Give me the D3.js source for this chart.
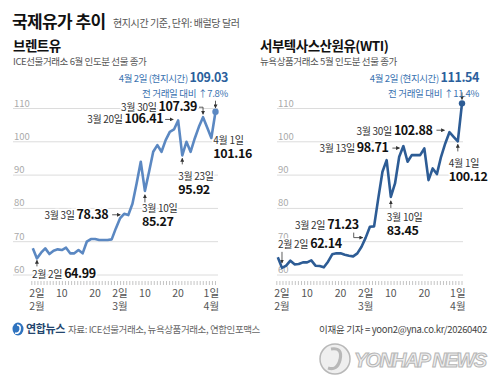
<!DOCTYPE html>
<html>
<head>
<meta charset="utf-8">
<script src="https://cdn.jsdelivr.net/npm/d3@7"></script>
<style>
  body { margin: 0; background: #fff; }
  svg { display: block; font-family: "Noto Sans CJK KR", "Noto Sans", sans-serif; }
</style>
</head>
<body>
<div id="chart"></div>
<script>
// trading days, 2026-01-30 .. 2026-04-02
var dates = ["1/30",
  "2/2","2/3","2/4","2/5","2/6","2/9","2/10","2/11","2/12","2/13",
  "2/16","2/17","2/18","2/19","2/20","2/23","2/24","2/25","2/26","2/27",
  "3/2","3/3","3/4","3/5","3/6","3/9","3/10","3/11","3/12","3/13",
  "3/16","3/17","3/18","3/19","3/20","3/23","3/24","3/25","3/26","3/27",
  "3/30","3/31","4/1","4/2"];

var brent = [68.0,
  64.99,66.7,68.0,66.3,67.3,67.7,67.5,68.2,66.5,66.5,
  67.5,66.5,70.0,70.8,70.8,70.5,70.5,70.5,70.7,74.0,
  77.0,78.38,78.0,81.4,87.5,94.0,85.27,91.0,97.0,99.0,
  97.0,100.5,103.0,103.7,106.41,95.92,100.0,97.0,101.0,104.5,
  107.39,104.3,101.16,109.03];

var wti = [65.3,
  62.14,62.8,64.3,63.2,63.3,63.8,63.8,64.4,62.8,62.7,
  62.3,64.0,66.2,66.5,66.5,66.1,65.8,65.6,66.5,68.5,
  71.23,74.5,74.6,83.0,91.0,94.5,83.45,87.5,95.5,98.71,
  94.0,96.0,96.0,96.0,98.0,88.5,92.0,90.3,95.5,99.5,
  102.88,101.5,100.12,111.54];

var yTicks = [60, 70, 80, 90, 100, 110];
var xTickLabels = [
  {date: "2/2", top: "2일", bottom: "2월"},
  {date: "2/10", top: "10"},
  {date: "2/20", top: "20"},
  {date: "3/2", top: "2일", bottom: "3월"},
  {date: "3/10", top: "10"},
  {date: "3/20", top: "20"},
  {date: "4/1", top: "1일", bottom: "4월"}
];

var brentNotes = [
  {date: "2/2", label: "2월 2일", value: "64.99"},
  {date: "3/3", label: "3월 3일", value: "78.38"},
  {date: "3/10", label: "3월 10일", value: "85.27"},
  {date: "3/20", label: "3월 20일", value: "106.41"},
  {date: "3/23", label: "3월 23일", value: "95.92"},
  {date: "3/30", label: "3월 30일", value: "107.39"},
  {date: "4/1", label: "4월 1일", value: "101.16"}
];
var wtiNotes = [
  {date: "2/2", label: "2월 2일", value: "62.14"},
  {date: "3/2", label: "3월 2일", value: "71.23"},
  {date: "3/10", label: "3월 10일", value: "83.45"},
  {date: "3/13", label: "3월 13일", value: "98.71"},
  {date: "3/30", label: "3월 30일", value: "102.88"},
  {date: "4/1", label: "4월 1일", value: "100.12"}
];

var width = 500, height = 390;

var svg = d3.select('#chart').append('svg')
  .attr('width', width)
  .attr('height', height);

svg.append('rect').attr('width', width).attr('height', height).attr('fill', '#fff');

var defs = svg.append('defs');
defs.append('marker')
  .attr('id', 'head')
  .attr('viewBox', '0 0 6 6')
  .attr('refX', 5).attr('refY', 3)
  .attr('markerWidth', 4).attr('markerHeight', 4)
  .attr('markerUnits', 'userSpaceOnUse')
  .attr('orient', 'auto')
  .append('path').attr('d', 'M0,0L6,3L0,6Z').attr('fill', '#333');

// header
svg.append('text').attr('x', 12).attr('y', 28)
  .attr('font-size', 17).attr('font-weight', 700).attr('fill', '#111')
  .attr('letter-spacing', -0.6)
  .text('국제유가 추이');
svg.append('text').attr('x', 113).attr('y', 27)
  .attr('font-size', 10).attr('fill', '#555')
  .attr('letter-spacing', -0.4)
  .text('현지시간 기준, 단위: 배럴당 달러');

var y = d3.scaleLinear().domain([60, 110]).range([275, 108.5]);

function drawPanel(o) {
  var g = svg.append('g');
  var x = d3.scalePoint().domain(dates).range(o.range);

  g.append('text').attr('x', o.titleX).attr('y', 51)
    .attr('font-size', 13.5).attr('font-weight', 700).attr('fill', '#111')
    .attr('letter-spacing', -0.5)
    .text(o.title);
  g.append('text').attr('x', o.titleX).attr('y', 65)
    .attr('font-size', 9.5).attr('fill', '#555')
    .attr('letter-spacing', -0.4)
    .text(o.sub);

  // grid
  g.selectAll('.grid').data(yTicks).enter().append('line')
    .attr('x1', o.gridX[0]).attr('x2', o.gridX[1])
    .attr('y1', function(d) { return y(d); })
    .attr('y2', function(d) { return y(d); })
    .attr('stroke', '#dcdcdc').attr('stroke-width', 1);
  g.selectAll('.ylab').data(yTicks).enter().append('text')
    .attr('x', o.gridX[0] + 1)
    .attr('y', function(d) { return y(d) - 2; })
    .attr('font-size', 9.5).attr('fill', '#aaa')
    .text(function(d) { return d; });

  // day ticks (calendar days Feb 1 .. Apr 2)
  var dayX = d3.scaleLinear().domain([0, 60]).range([x('1/30') - 1, x('4/2')]);
  g.selectAll('.tick').data(d3.range(0, 61)).enter().append('line')
    .attr('x1', function(d) { return dayX(d); })
    .attr('x2', function(d) { return dayX(d); })
    .attr('y1', 281).attr('y2', 285)
    .attr('stroke', '#b5b5b5').attr('stroke-width', 0.8);

  g.selectAll('.xlab').data(xTickLabels).enter().append('text')
    .attr('x', function(d) { return x(d.date); })
    .attr('y', 297).attr('text-anchor', 'middle')
    .attr('font-size', 10.5).attr('fill', '#555')
    .text(function(d) { return d.top; });
  g.selectAll('.mlab').data(xTickLabels.filter(function(d) { return d.bottom; })).enter().append('text')
    .attr('x', function(d) { return x(d.date); })
    .attr('y', 310).attr('text-anchor', 'middle')
    .attr('font-size', 10.5).attr('fill', '#555')
    .text(function(d) { return d.bottom; });

  // line
  var line = d3.line()
    .x(function(d, i) { return x(dates[i]); })
    .y(function(d) { return y(d); });
  g.append('path').datum(o.values)
    .attr('d', line)
    .attr('fill', 'none')
    .attr('stroke', o.color)
    .attr('stroke-width', 2.6)
    .attr('stroke-linejoin', 'round');

  var last = dates.length - 1;
  var lx = x(dates[last]), ly = y(o.values[last]);
  g.append('circle').attr('cx', lx).attr('cy', ly).attr('r', 3.2).attr('fill', o.color);
  g.append('line').attr('x1', lx).attr('x2', lx).attr('y1', ly - 11).attr('y2', ly - 4)
    .attr('stroke', '#333').attr('stroke-width', 0.8).attr('marker-end', 'url(#head)');

  var t1 = g.append('text').attr('x', o.noteRight).attr('y', 82)
    .attr('text-anchor', 'end').attr('fill', '#3a72b0').attr('letter-spacing', -0.4);
  t1.append('tspan').attr('font-size', 9.5).text('4월 2일 (현지시간) ');
  t1.append('tspan').attr('font-size', 12.5).attr('font-weight', 700).attr('fill', '#2b5f9c')
    .text(o.values[last].toFixed(2));
  g.append('text').attr('x', o.noteRight).attr('y', 97)
    .attr('text-anchor', 'end').attr('fill', '#3a72b0').attr('letter-spacing', -0.3)
    .attr('font-size', 9.5).text('전 거래일 대비 ↑' + o.change);

  // annotations
  var byDate = {};
  o.notes.forEach(function(n) { byDate[n.date] = n; });
  o.layout.forEach(function(l) {
    var n = byDate[l.date];
    var px = x(n.date), py = y(+n.value);
    if (l.arrow) {
      g.append('path')
        .attr('d', l.arrow(px, py))
        .attr('fill', 'none').attr('stroke', '#333').attr('stroke-width', 0.8)
        .attr('marker-end', 'url(#head)');
    }
    var tx = px + l.dx;
    if (l.stack) {
      g.append('text').attr('x', tx).attr('y', py + l.dy)
        .attr('font-size', 10).attr('fill', '#333').attr('letter-spacing', -0.3)
        .attr('stroke', '#fff').attr('stroke-width', 3).attr('paint-order', 'stroke')
        .text(n.label);
      g.append('text').attr('x', tx).attr('y', py + l.dy + 14)
        .attr('font-size', 12.5).attr('font-weight', 700).attr('fill', '#111').attr('letter-spacing', -0.4)
        .attr('stroke', '#fff').attr('stroke-width', 3).attr('paint-order', 'stroke')
        .text(n.value);
    } else {
      var t = g.append('text').attr('x', tx).attr('y', py + l.dy)
        .attr('text-anchor', l.anchor || 'start')
        .attr('stroke', '#fff').attr('stroke-width', 3).attr('paint-order', 'stroke');
      t.append('tspan').attr('font-size', 10).attr('fill', '#333').attr('letter-spacing', -0.3).text(n.label + ' ');
      t.append('tspan').attr('font-size', 12.5).attr('font-weight', 700).attr('fill', '#111').attr('letter-spacing', -0.4).text(n.value);
    }
  });
}

function up(px, py, a, b) { return 'M' + px + ',' + (py + a) + 'V' + (py + b); }
function right(px, py, a, b, dy) { return 'M' + (px + a) + ',' + (py + dy) + 'H' + (px + b); }

drawPanel({
  title: '브렌트유',
  sub: 'ICE선물거래소 6월 인도분 선물 종가',
  titleX: 13,
  range: [32.8, 215.5],
  gridX: [13, 218],
  values: brent,
  color: '#5b88c2',
  noteRight: 228,
  change: '7.8%',
  notes: brentNotes,
  layout: [
    {date: '2/2', dx: -5, dy: 20, arrow: function(px, py) { return up(px, py, 8, 2); }},
    {date: '3/3', dx: -16, dy: 5, anchor: 'end', arrow: function(px, py) { return right(px, py, -12, -4, 1); }},
    {date: '3/10', dx: -3, dy: 21, stack: true, arrow: function(px, py) { return up(px, py, 12, 4); }},
    {date: '3/20', dx: -15, dy: 3, anchor: 'end', arrow: function(px, py) { return right(px, py, -13, -5, -1); }},
    {date: '3/23', dx: -4, dy: 25, stack: true, arrow: function(px, py) { return up(px, py, 9, 3); }},
    {date: '3/30', dx: -6, dy: -6, anchor: 'end', arrow: function(px, py) {
      return 'M' + (px - 4) + ',' + (py - 10) + 'H' + px + 'V' + (py - 3); }},
    {date: '4/1', dx: 2, dy: 6, stack: true}
  ]
});

drawPanel({
  title: '서부텍사스산원유(WTI)',
  sub: '뉴욕상품거래소 5월 인도분 선물 종가',
  titleX: 260,
  range: [277.8, 462],
  gridX: [277, 463],
  values: wti,
  color: '#2d5c95',
  noteRight: 479,
  change: '11.4%',
  notes: wtiNotes,
  layout: [
    {date: '2/2', dx: -4, dy: -20, arrow: function(px, py) { return up(px, py, -16, -5); }},
    {date: '3/2', dx: -7, dy: -9, anchor: 'end', arrow: function(px, py) {
      return 'M' + (px - 12) + ',' + (py - 5) + 'V' + py + 'H' + (px - 3); }},
    {date: '3/10', dx: -4, dy: 24, stack: true, arrow: function(px, py) { return up(px, py, 11, 4); }},
    {date: '3/13', dx: -15, dy: 6, anchor: 'end', arrow: function(px, py) { return right(px, py, -11, -4, 2); }},
    {date: '3/30', dx: -17, dy: 3, anchor: 'end', arrow: function(px, py) { return right(px, py, -13, -5, -2); }},
    {date: '4/1', dx: -9, dy: 26, stack: true, arrow: function(px, py) { return up(px, py, 10, 3); }}
  ]
});

// footer
var logo = svg.append('g').attr('transform', 'translate(18,329)');
logo.append('ellipse').attr('rx', 5.5).attr('ry', 6.5).attr('fill', '#2f73bf');
logo.append('path').attr('d', 'M-1,-4 Q3,-4 2,1 Q1,5 -3,4')
  .attr('fill', 'none').attr('stroke', '#fff').attr('stroke-width', 1.6);
svg.append('text').attr('x', 26).attr('y', 333)
  .attr('font-size', 11).attr('font-weight', 700).attr('fill', '#24466e')
  .attr('letter-spacing', -0.4)
  .text('연합뉴스');
svg.append('text').attr('x', 68).attr('y', 333)
  .attr('font-size', 9.5).attr('fill', '#666').attr('letter-spacing', -0.4)
  .text('자료: ICE선물거래소, 뉴욕상품거래소, 연합인포맥스');
svg.append('text').attr('x', 487).attr('y', 333).attr('text-anchor', 'end')
  .attr('font-size', 9.5).attr('fill', '#444').attr('letter-spacing', -0.3)
  .text('이재윤 기자 = yoon2@yna.co.kr/20260402');

// watermark
var wm = svg.append('g').attr('opacity', 0.6);
wm.append('circle').attr('cx', 335).attr('cy', 359).attr('r', 15)
  .attr('fill', '#e6e6e6').attr('stroke', '#8a8a8a').attr('stroke-width', 1.5);
wm.append('path').attr('d', 'M331,349 Q343,347 340,360 Q337,371 328,368')
  .attr('fill', 'none').attr('stroke', '#8a8a8a').attr('stroke-width', 3.2);
wm.append('text').attr('x', 354).attr('y', 367)
  .attr('font-family', 'Liberation Sans, Arial, sans-serif')
  .attr('font-size', 20).attr('font-weight', 700).attr('font-style', 'italic')
  .attr('fill', '#e3e3e3').attr('stroke', '#858585').attr('stroke-width', 1)
  .attr('textLength', 133)
  .text('YONHAP NEWS');
</script>
</body>
</html>
